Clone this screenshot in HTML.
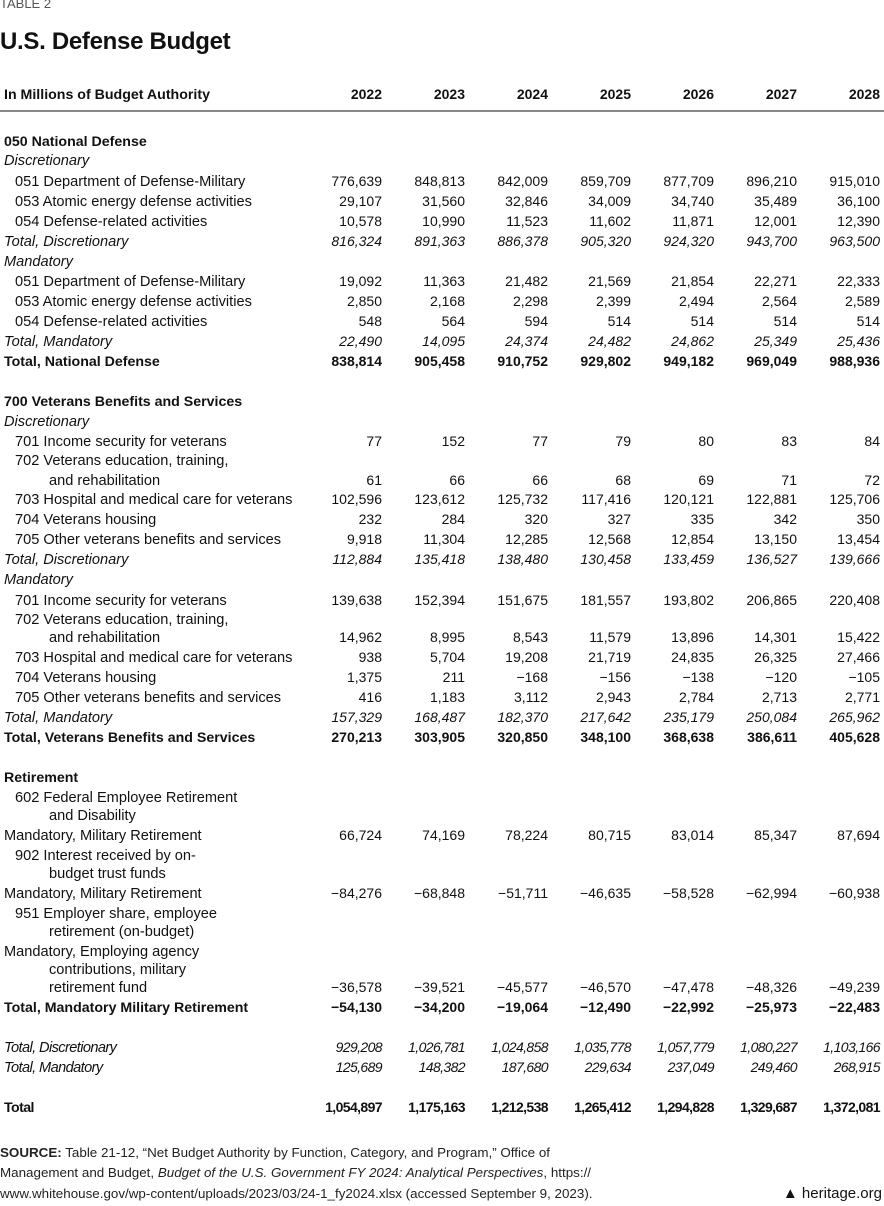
<!DOCTYPE html>
<html><head><meta charset="utf-8">
<style>
*{margin:0;padding:0;box-sizing:border-box}
body{width:884px;height:1206px;background:#fff;position:relative;font-family:"Liberation Sans",sans-serif;color:#111;overflow:hidden}
.r{position:absolute;left:0;width:884px;height:18px;line-height:18px;font-size:14px;white-space:nowrap}
.l{position:absolute;top:1px;left:4px;font-size:14.6px;line-height:18px}
.b .l{font-size:14.2px}
.i{left:15px}.ii{left:49px}
.c{position:absolute;top:0;width:83px;text-align:right}
.c1{left:299px}.c2{left:382px}.c3{left:465px}.c4{left:548px}.c5{left:631px}.c6{left:714px}.c7{left:797px}
.b{font-weight:bold}.it{font-style:italic}
.cd .c,.cd .l{letter-spacing:-0.6px}
.src{position:absolute;left:0;font-size:13px;line-height:20px;white-space:nowrap;transform-origin:0 0;transform:scaleX(1.03);color:#222}
</style></head><body>
<div style="position:absolute;left:0;top:-4px;font-size:13px;color:#555">TABLE 2</div>
<div style="position:absolute;left:0;top:28px;font-size:24px;font-weight:bold;letter-spacing:-0.3px">U.S. Defense Budget</div>
<div class="r b" style="top:85px"><span class="l">In Millions of Budget Authority</span><span class="c c1">2022</span><span class="c c2">2023</span><span class="c c3">2024</span><span class="c c4">2025</span><span class="c c5">2026</span><span class="c c6">2027</span><span class="c c7">2028</span></div>
<div style="position:absolute;left:0;top:110px;width:884px;height:2px;background:#888"></div>

<div class="r b" style="top:132px"><span class="l">050 National Defense</span></div>
<div class="r it" style="top:151px"><span class="l">Discretionary</span></div>
<div class="r" style="top:172px"><span class="l i">051 Department of Defense-Military</span><span class="c c1">776,639</span><span class="c c2">848,813</span><span class="c c3">842,009</span><span class="c c4">859,709</span><span class="c c5">877,709</span><span class="c c6">896,210</span><span class="c c7">915,010</span></div>
<div class="r" style="top:192px"><span class="l i">053 Atomic energy defense activities</span><span class="c c1">29,107</span><span class="c c2">31,560</span><span class="c c3">32,846</span><span class="c c4">34,009</span><span class="c c5">34,740</span><span class="c c6">35,489</span><span class="c c7">36,100</span></div>
<div class="r" style="top:212px"><span class="l i">054 Defense-related activities</span><span class="c c1">10,578</span><span class="c c2">10,990</span><span class="c c3">11,523</span><span class="c c4">11,602</span><span class="c c5">11,871</span><span class="c c6">12,001</span><span class="c c7">12,390</span></div>
<div class="r it" style="top:232px"><span class="l">Total, Discretionary</span><span class="c c1">816,324</span><span class="c c2">891,363</span><span class="c c3">886,378</span><span class="c c4">905,320</span><span class="c c5">924,320</span><span class="c c6">943,700</span><span class="c c7">963,500</span></div>
<div class="r it" style="top:252px"><span class="l">Mandatory</span></div>
<div class="r" style="top:272px"><span class="l i">051 Department of Defense-Military</span><span class="c c1">19,092</span><span class="c c2">11,363</span><span class="c c3">21,482</span><span class="c c4">21,569</span><span class="c c5">21,854</span><span class="c c6">22,271</span><span class="c c7">22,333</span></div>
<div class="r" style="top:292px"><span class="l i">053 Atomic energy defense activities</span><span class="c c1">2,850</span><span class="c c2">2,168</span><span class="c c3">2,298</span><span class="c c4">2,399</span><span class="c c5">2,494</span><span class="c c6">2,564</span><span class="c c7">2,589</span></div>
<div class="r" style="top:312px"><span class="l i">054 Defense-related activities</span><span class="c c1">548</span><span class="c c2">564</span><span class="c c3">594</span><span class="c c4">514</span><span class="c c5">514</span><span class="c c6">514</span><span class="c c7">514</span></div>
<div class="r it" style="top:332px"><span class="l">Total, Mandatory</span><span class="c c1">22,490</span><span class="c c2">14,095</span><span class="c c3">24,374</span><span class="c c4">24,482</span><span class="c c5">24,862</span><span class="c c6">25,349</span><span class="c c7">25,436</span></div>
<div class="r b" style="top:352px"><span class="l">Total, National Defense</span><span class="c c1">838,814</span><span class="c c2">905,458</span><span class="c c3">910,752</span><span class="c c4">929,802</span><span class="c c5">949,182</span><span class="c c6">969,049</span><span class="c c7">988,936</span></div>

<div class="r b" style="top:392px"><span class="l">700 Veterans Benefits and Services</span></div>
<div class="r it" style="top:412px"><span class="l">Discretionary</span></div>
<div class="r" style="top:432px"><span class="l i">701 Income security for veterans</span><span class="c c1">77</span><span class="c c2">152</span><span class="c c3">77</span><span class="c c4">79</span><span class="c c5">80</span><span class="c c6">83</span><span class="c c7">84</span></div>
<div class="r" style="top:451px"><span class="l i">702 Veterans education, training,</span></div>
<div class="r" style="top:471px"><span class="l ii">and rehabilitation</span><span class="c c1">61</span><span class="c c2">66</span><span class="c c3">66</span><span class="c c4">68</span><span class="c c5">69</span><span class="c c6">71</span><span class="c c7">72</span></div>
<div class="r" style="top:490px"><span class="l i">703 Hospital and medical care for veterans</span><span class="c c1">102,596</span><span class="c c2">123,612</span><span class="c c3">125,732</span><span class="c c4">117,416</span><span class="c c5">120,121</span><span class="c c6">122,881</span><span class="c c7">125,706</span></div>
<div class="r" style="top:510px"><span class="l i">704 Veterans housing</span><span class="c c1">232</span><span class="c c2">284</span><span class="c c3">320</span><span class="c c4">327</span><span class="c c5">335</span><span class="c c6">342</span><span class="c c7">350</span></div>
<div class="r" style="top:530px"><span class="l i">705 Other veterans benefits and services</span><span class="c c1">9,918</span><span class="c c2">11,304</span><span class="c c3">12,285</span><span class="c c4">12,568</span><span class="c c5">12,854</span><span class="c c6">13,150</span><span class="c c7">13,454</span></div>
<div class="r it" style="top:550px"><span class="l">Total, Discretionary</span><span class="c c1">112,884</span><span class="c c2">135,418</span><span class="c c3">138,480</span><span class="c c4">130,458</span><span class="c c5">133,459</span><span class="c c6">136,527</span><span class="c c7">139,666</span></div>
<div class="r it" style="top:570px"><span class="l">Mandatory</span></div>
<div class="r" style="top:591px"><span class="l i">701 Income security for veterans</span><span class="c c1">139,638</span><span class="c c2">152,394</span><span class="c c3">151,675</span><span class="c c4">181,557</span><span class="c c5">193,802</span><span class="c c6">206,865</span><span class="c c7">220,408</span></div>
<div class="r" style="top:610px"><span class="l i">702 Veterans education, training,</span></div>
<div class="r" style="top:628px"><span class="l ii">and rehabilitation</span><span class="c c1">14,962</span><span class="c c2">8,995</span><span class="c c3">8,543</span><span class="c c4">11,579</span><span class="c c5">13,896</span><span class="c c6">14,301</span><span class="c c7">15,422</span></div>
<div class="r" style="top:648px"><span class="l i">703 Hospital and medical care for veterans</span><span class="c c1">938</span><span class="c c2">5,704</span><span class="c c3">19,208</span><span class="c c4">21,719</span><span class="c c5">24,835</span><span class="c c6">26,325</span><span class="c c7">27,466</span></div>
<div class="r" style="top:668px"><span class="l i">704 Veterans housing</span><span class="c c1">1,375</span><span class="c c2">211</span><span class="c c3">−168</span><span class="c c4">−156</span><span class="c c5">−138</span><span class="c c6">−120</span><span class="c c7">−105</span></div>
<div class="r" style="top:688px"><span class="l i">705 Other veterans benefits and services</span><span class="c c1">416</span><span class="c c2">1,183</span><span class="c c3">3,112</span><span class="c c4">2,943</span><span class="c c5">2,784</span><span class="c c6">2,713</span><span class="c c7">2,771</span></div>
<div class="r it" style="top:708px"><span class="l">Total, Mandatory</span><span class="c c1">157,329</span><span class="c c2">168,487</span><span class="c c3">182,370</span><span class="c c4">217,642</span><span class="c c5">235,179</span><span class="c c6">250,084</span><span class="c c7">265,962</span></div>
<div class="r b" style="top:728px"><span class="l">Total, Veterans Benefits and Services</span><span class="c c1">270,213</span><span class="c c2">303,905</span><span class="c c3">320,850</span><span class="c c4">348,100</span><span class="c c5">368,638</span><span class="c c6">386,611</span><span class="c c7">405,628</span></div>

<div class="r b" style="top:768px"><span class="l">Retirement</span></div>
<div class="r" style="top:788px"><span class="l i">602 Federal Employee Retirement</span></div>
<div class="r" style="top:806px"><span class="l ii">and Disability</span></div>
<div class="r" style="top:826px"><span class="l">Mandatory, Military Retirement</span><span class="c c1">66,724</span><span class="c c2">74,169</span><span class="c c3">78,224</span><span class="c c4">80,715</span><span class="c c5">83,014</span><span class="c c6">85,347</span><span class="c c7">87,694</span></div>
<div class="r" style="top:846px"><span class="l i">902 Interest received by on-</span></div>
<div class="r" style="top:864px"><span class="l ii">budget trust funds</span></div>
<div class="r" style="top:884px"><span class="l">Mandatory, Military Retirement</span><span class="c c1">−84,276</span><span class="c c2">−68,848</span><span class="c c3">−51,711</span><span class="c c4">−46,635</span><span class="c c5">−58,528</span><span class="c c6">−62,994</span><span class="c c7">−60,938</span></div>
<div class="r" style="top:904px"><span class="l i">951 Employer share, employee</span></div>
<div class="r" style="top:922px"><span class="l ii">retirement (on-budget)</span></div>
<div class="r" style="top:942px"><span class="l">Mandatory, Employing agency</span></div>
<div class="r" style="top:960px"><span class="l ii">contributions, military</span></div>
<div class="r" style="top:978px"><span class="l ii">retirement fund</span><span class="c c1">−36,578</span><span class="c c2">−39,521</span><span class="c c3">−45,577</span><span class="c c4">−46,570</span><span class="c c5">−47,478</span><span class="c c6">−48,326</span><span class="c c7">−49,239</span></div>
<div class="r b" style="top:998px"><span class="l">Total, Mandatory Military Retirement</span><span class="c c1">−54,130</span><span class="c c2">−34,200</span><span class="c c3">−19,064</span><span class="c c4">−12,490</span><span class="c c5">−22,992</span><span class="c c6">−25,973</span><span class="c c7">−22,483</span></div>

<div class="r it cd" style="top:1038px"><span class="l">Total, Discretionary</span><span class="c c1">929,208</span><span class="c c2">1,026,781</span><span class="c c3">1,024,858</span><span class="c c4">1,035,778</span><span class="c c5">1,057,779</span><span class="c c6">1,080,227</span><span class="c c7">1,103,166</span></div>
<div class="r it cd" style="top:1058px"><span class="l">Total, Mandatory</span><span class="c c1">125,689</span><span class="c c2">148,382</span><span class="c c3">187,680</span><span class="c c4">229,634</span><span class="c c5">237,049</span><span class="c c6">249,460</span><span class="c c7">268,915</span></div>
<div class="r b cd" style="top:1098px"><span class="l">Total</span><span class="c c1">1,054,897</span><span class="c c2">1,175,163</span><span class="c c3">1,212,538</span><span class="c c4">1,265,412</span><span class="c c5">1,294,828</span><span class="c c6">1,329,687</span><span class="c c7">1,372,081</span></div>

<div class="src" style="top:1143px"><b>SOURCE:</b> Table 21-12, “Net Budget Authority by Function, Category, and Program,” Office of</div>
<div class="src" style="top:1163px">Management and Budget, <i>Budget of the U.S. Government FY 2024: Analytical Perspectives</i>, https://</div>
<div class="src" style="top:1184px">www.whitehouse.gov/wp-content/uploads/2023/03/24-1_fy2024.xlsx (accessed September 9, 2023).</div>
<div style="position:absolute;right:2px;top:1185px;font-size:15px;line-height:18px">&#9650; heritage.org</div>
</body></html>
